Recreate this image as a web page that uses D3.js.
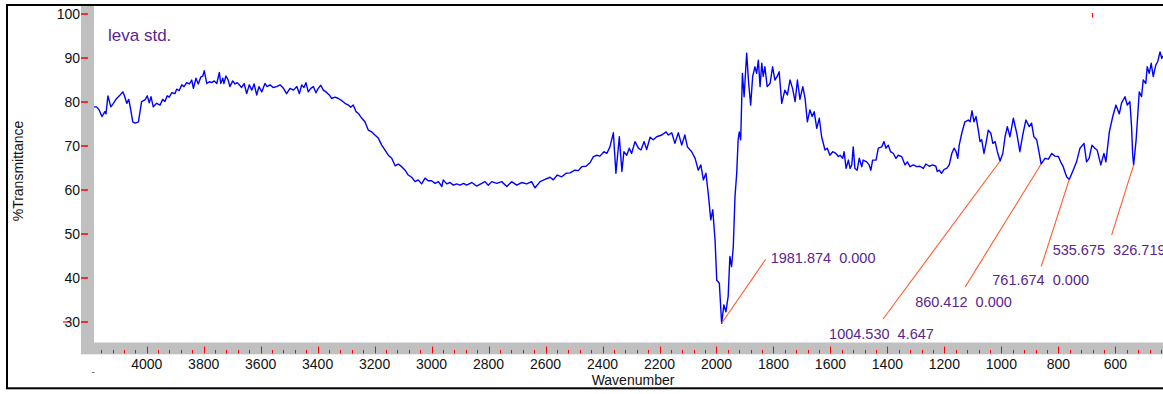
<!DOCTYPE html>
<html><head><meta charset="utf-8">
<script src="https://cdn.jsdelivr.net/npm/d3@7"></script>
<style>
html,body{margin:0;padding:0;background:#fff;overflow:hidden}
svg{display:block;font-family:"Liberation Sans",Arial,Helvetica,sans-serif}
text.keep{white-space:pre}
</style></head><body>
<svg id="chart" width="1163" height="394"></svg>
<script>
// ---- data ----
const wavenumber = [4185,4176,4167,4157,4147,4143,4136,4126,4117,4108,4096,4084,4079,4070,4063,4056,4049,4041,4029,4018,4006,3998,3991,3985,3977,3965,3953,3944,3936,3928,3921,3912,3901,3895,3886,3877,3869,3860,3850,3842,3836,3827,3819,3810,3803,3798,3789,3780,3772,3763,3754,3745,3740,3733,3729,3722,3714,3708,3698,3690,3682,3675,3667,3658,3649,3640,3631,3623,3614,3606,3596,3585,3577,3567,3556,3544,3532,3520,3509,3497,3485,3473,3464,3456,3448,3441,3433,3424,3415,3406,3398,3389,3380,3371,3359,3351,3339,3327,3315,3304,3292,3284,3275,3265,3257,3245,3234,3222,3210,3199,3187,3175,3164,3152,3140,3128,3117,3105,3093,3082,3070,3058,3047,3035,3023,3012,3000,2988,2976,2964,2959,2947,2935,2924,2912,2900,2888,2877,2859,2842,2824,2813,2801,2789,2771,2754,2736,2719,2701,2684,2666,2649,2637,2619,2602,2584,2573,2559,2543,2528,2514,2497,2485,2473,2458,2444,2432,2420,2409,2395,2385,2374,2362,2353,2341,2332,2325,2315,2306,2298,2286,2274,2265,2254,2245,2233,2222,2210,2192,2177,2169,2157,2146,2134,2122,2111,2102,2087,2075,2064,2055,2046,2037,2029,2020,2013,2005,1999,1990,1981.9,1974,1967,1959,1953,1947,1941,1935,1929,1924,1920,1915,1909,1903,1894,1887,1880,1873,1865,1859,1853,1847,1841,1836,1830,1822,1812,1803,1795,1787,1780,1771,1760,1751,1742,1733,1724,1716,1707,1697,1689,1681,1672,1664,1657,1648,1639,1631,1619,1611,1602,1592,1581,1572,1566,1557,1552,1545,1537,1531,1525,1520,1514,1506,1499,1490,1485,1473,1464,1458,1452,1440,1432,1420,1412,1405,1397,1389,1379,1370,1362,1350,1338,1330,1321,1309,1297,1286,1274,1265,1253,1241,1230,1225,1218,1210,1201,1192,1183,1174,1166,1159,1153,1148,1139,1128,1116,1110,1103,1096,1089,1081,1075,1069,1061,1054,1046,1037,1030,1022,1014,1004.5,995,987,979,970,958,946,935,925,914,902,894,886,876,867,860.4,847,835,823,812,800,792,783,771,761.7,748,736,724,710,701,692,682,672,664,651,640,633,621,609,598,586,578,566,558,549,543,539,535.7,527,516,508,502,493,488,481,474,467,458,451,443,437,433,425];
const transmittance = [78.9,78.9,78.2,76.7,77.8,77.3,81.4,78.9,79.7,80.6,81.4,82.3,81.6,79.7,80.6,78.2,75.5,75.2,75.5,80.1,80.5,81.4,79.8,81.2,78.9,79.7,79.3,80.6,80.1,81.4,81.1,82.1,81.9,82.9,82.6,83.9,83.5,84.4,84.1,85.0,83.1,85.4,84.1,85.7,85.9,87.1,84.2,84.6,84.4,84.8,84.2,86.7,84.2,85.4,84.2,85.9,85.0,83.5,84.8,84.1,84.4,83.9,83.3,84.2,81.9,83.9,82.7,84.1,81.6,83.5,82.3,84.2,83.5,83.9,83.3,83.5,83.9,83.1,81.9,83.1,82.7,83.5,81.9,83.9,83.3,84.4,82.3,83.1,83.5,82.1,83.1,83.8,82.7,82.3,81.6,80.8,81.1,80.8,80.3,79.7,79.3,78.8,79.3,77.8,77.4,76.3,75.5,73.6,73.2,72.5,71.8,70.2,69.1,67.9,67.2,65.5,65.9,65.3,64.5,63.4,62.9,61.9,62.3,61.4,62.7,62.1,62.1,61.5,61.9,60.8,62.3,61.4,61.7,61.1,61.4,61.1,61.5,61.1,61.7,60.9,61.5,61.9,61.1,61.9,61.5,61.9,60.8,61.9,61.1,61.7,61.4,61.9,60.5,61.9,62.4,62.9,62.3,63.4,63.0,63.8,63.9,64.5,64.4,65.3,65.4,66.2,67.6,67.9,67.7,68.7,68.3,69.8,73.0,63.8,72.1,64.2,68.7,67.9,69.5,68.3,71.0,69.5,69.1,71.0,69.2,72.0,71.4,72.1,72.5,73.2,72.5,73.0,70.6,73.0,70.2,72.5,69.8,68.7,67.2,64.5,65.7,62.3,63.8,59.3,53.2,55.5,48.6,39.5,38.8,29.7,33.9,32.3,35.8,44.9,42.6,47.1,58.5,63.8,71.4,73.2,71.4,86.5,81.2,91.1,84.2,79.3,85.8,88.0,86.5,89.5,83.5,88.8,85.8,88.0,83.5,84.2,88.0,85.0,85.8,86.9,79.7,82.7,81.6,85.0,83.1,80.1,85.0,80.6,83.5,80.8,75.5,78.2,76.7,77.8,74.0,76.3,72.1,69.1,69.5,67.9,68.7,68.3,67.6,67.9,67.2,68.7,64.9,66.8,64.9,65.7,69.8,64.9,64.5,67.2,65.3,66.8,66.4,65.7,64.5,66.8,66.8,69.5,69.8,71.0,69.5,70.2,68.7,68.3,67.2,67.9,67.6,65.7,66.4,65.3,65.7,65.3,65.4,64.9,65.9,65.4,65.7,65.4,64.2,64.5,63.8,64.7,64.9,65.7,68.3,69.5,68.7,67.2,70.2,72.9,75.5,75.9,75.5,78.0,75.5,76.7,73.6,71.0,71.4,68.3,70.6,73.6,72.9,70.6,71.0,68.7,66.6,68.3,72.1,74.4,72.1,76.3,72.9,68.7,72.5,75.9,74.4,75.2,72.1,71.4,68.3,65.9,67.2,67.0,68.3,67.7,67.6,66.4,65.3,63.0,62.4,64.5,66.4,69.5,70.6,66.4,67.2,70.2,69.5,69.1,65.7,68.3,66.4,73.2,76.7,79.3,77.3,79.8,81.2,79.3,80.1,74.4,67.9,65.7,71.4,82.3,81.2,85.0,84.2,88.0,86.5,88.8,85.8,88.4,89.2,91.4,89.9,90.5];
const yTicks = [30, 40, 50, 60, 70, 80, 90, 100];
const xTicks = [4000, 3800, 3600, 3400, 3200, 3000, 2800, 2600, 2400, 2200, 2000, 1800, 1600, 1400, 1200, 1000, 800, 600];
const peakWavenumber = [1981.874, 1004.530, 860.412, 761.674, 535.675];
const peakTransmittance = [29.7, 66.6, 65.9, 62.4, 65.7];
const peakLabel = ["1981.874  0.000", "1004.530  4.647", "860.412  0.000", "761.674  0.000", "535.675  326.719"];
const sampleName = "leva std.";
const xTitle = "Wavenumber";
const yTitle = "%Transmittance";

// ---- drawing ----
const svg = d3.select("#chart");
const plot = {left: 94, right: 1172.3, top: 6, bottom: 342};
const x = d3.scaleLinear().domain([4185, 400]).range([plot.left, plot.right]);
const y = d3.scaleLinear().domain([25.45, 101.82]).range([plot.bottom, plot.top]);

const red = "#ff0000", gray = "#c0c0c0", purple = "#5a2590", orange = "#ff5a2a";

svg.append("rect").attr("width", 1163).attr("height", 394).attr("fill", "#fff");

// gray axis bands
svg.append("rect").attr("x", 81).attr("y", 6).attr("width", 13).attr("height", 348).attr("fill", gray);
svg.append("rect").attr("x", 81).attr("y", 342.5).attr("width", 1100).attr("height", 11.8).attr("fill", gray);

// outer border
svg.append("rect").attr("x", 7).attr("y", 5).attr("width", 1200).attr("height", 383.3)
  .attr("fill", "none").attr("stroke", "#000").attr("stroke-width", 2);

// x ticks (major every 200, minor every 40)
const minor = d3.range(4160, 400, -40);
svg.append("g").selectAll("line").data(minor).join("line")
  .attr("x1", d => Math.round(x(d)) + 0.5).attr("x2", d => Math.round(x(d)) + 0.5)
  .attr("y1", d => d % 200 === 0 ? 346.5 : 350).attr("y2", 353.5)
  .attr("stroke", red).attr("stroke-width", 1);
svg.append("g").selectAll("text").data(xTicks).join("text")
  .attr("x", d => x(d)).attr("y", 369).attr("text-anchor", "middle")
  .attr("font-size", 14).attr("fill", "#111").text(d => d);

// y ticks
svg.append("g").selectAll("line").data(yTicks).join("line")
  .attr("x1", 81).attr("x2", 88).attr("y1", d => y(d)).attr("y2", d => y(d))
  .attr("stroke", red).attr("stroke-width", 1.5);
svg.append("g").selectAll("text").data(yTicks).join("text")
  .attr("x", 80).attr("y", d => y(d)).attr("dy", "0.36em").attr("text-anchor", "end")
  .attr("font-size", 14).attr("fill", "#111").text(d => d);
// small stray marks in the reference
svg.append("line").attr("x1", 63).attr("x2", 68.5).attr("y1", y(30)).attr("y2", y(30)).attr("stroke", red).attr("stroke-width", 1.2);
svg.append("line").attr("x1", 1092.5).attr("x2", 1092.5).attr("y1", 13).attr("y2", 17.5).attr("stroke", red).attr("stroke-width", 1.2);
svg.append("line").attr("x1", 92).attr("x2", 94.5).attr("y1", 372.5).attr("y2", 372.5).attr("stroke", "#777").attr("stroke-width", 1);

// titles
svg.append("text").attr("x", 633).attr("y", 385).attr("text-anchor", "middle")
  .attr("font-size", 14).attr("fill", "#111").text(xTitle);
svg.append("text").attr("transform", "translate(23,171) rotate(-90)").attr("text-anchor", "middle")
  .attr("font-size", 14).attr("fill", "#111").text(yTitle);
svg.append("text").attr("x", 108).attr("y", 41).attr("font-size", 17).attr("fill", purple).text(sampleName);

// spectrum
svg.append("clipPath").attr("id", "clip").append("rect")
  .attr("x", plot.left).attr("y", plot.top).attr("width", plot.right - plot.left).attr("height", plot.bottom - plot.top);
const pts = wavenumber.map((w, i) => [w, transmittance[i]]);
svg.append("path").datum(pts).attr("clip-path", "url(#clip)")
  .attr("d", d3.line().x(d => x(d[0])).y(d => y(d[1])))
  .attr("fill", "none").attr("stroke", "#0000ff").attr("stroke-width", 1.4).attr("stroke-linejoin", "round");

// peak annotations (pixel offsets from each peak)
const layout = [
  {lx: 44, ly: -64, tx: 49, ty: -60},
  {lx: -117, ly: 158, tx: -171, ty: 178},
  {lx: -76, ly: 123, tx: -126, ty: 143},
  {lx: -28, ly: 87, tx: -77, ty: 106},
  {lx: -22, ly: 70, tx: -81, ty: 90}
];
const ann = svg.append("g");
peakWavenumber.forEach((w, i) => {
  const px = x(w), py = y(peakTransmittance[i]), L = layout[i];
  ann.append("line").attr("x1", px).attr("y1", py).attr("x2", px + L.lx).attr("y2", py + L.ly)
    .attr("stroke", orange).attr("stroke-width", 1.1);
  ann.append("text").attr("class", "keep").attr("x", px + L.tx).attr("y", py + L.ty)
    .attr("font-size", 14.5).attr("fill", purple).text(peakLabel[i]);
});
</script>
</body></html>
